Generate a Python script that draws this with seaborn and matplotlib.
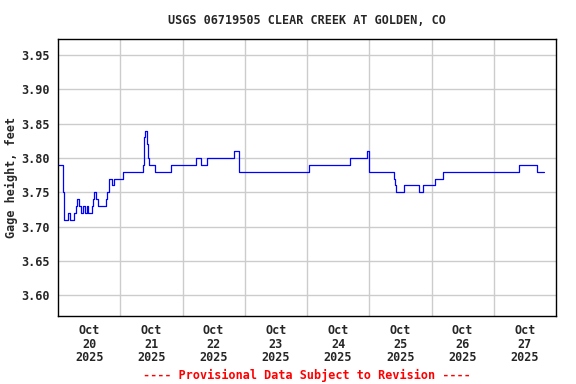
import pandas as pd
import matplotlib
matplotlib.use("Agg")
import matplotlib.pyplot as plt
import matplotlib.dates as mdates
import seaborn as sns

# gage height readings, hours since 2025-10-20 00:00 where the value changes
hours = [0.0, 2.0, 2.25, 3.75, 4.5, 6.25, 6.75, 7.25, 8.25, 9.0, 9.5, 10.5,
         11.0, 11.5, 13.0, 13.5, 13.75, 14.75, 15.25, 18.5, 19.0, 19.5,
         19.75, 20.75, 21.75, 25.0, 32.75, 33.0, 33.25, 33.5, 34.25, 34.75,
         35.25, 37.25, 43.5, 53.25, 55.25, 57.5, 67.75, 69.75, 96.75, 112.5,
         119.0, 120.0, 129.5, 130.0, 130.5, 133.5, 139.25, 140.75, 145.5,
         148.25, 177.75, 184.75, 187.25]
gage_ft = [3.79, 3.75, 3.71, 3.72, 3.71, 3.72, 3.73, 3.74, 3.73, 3.72, 3.73, 3.72,
           3.73, 3.72, 3.73, 3.74, 3.75, 3.74, 3.73, 3.74, 3.75, 3.76,
           3.77, 3.76, 3.77, 3.78, 3.79, 3.80, 3.83, 3.84, 3.82, 3.80,
           3.79, 3.78, 3.79, 3.80, 3.79, 3.80, 3.81, 3.78, 3.79, 3.80,
           3.81, 3.78, 3.77, 3.76, 3.75, 3.76, 3.75, 3.76, 3.77,
           3.78, 3.79, 3.78, 3.78]

y_ticks = [3.60, 3.65, 3.70, 3.75, 3.80, 3.85, 3.90, 3.95]
days = ["2025-10-20", "2025-10-21", "2025-10-22", "2025-10-23",
        "2025-10-24", "2025-10-25", "2025-10-26", "2025-10-27"]
day_labels = ["Oct\n20\n2025", "Oct\n21\n2025", "Oct\n22\n2025", "Oct\n23\n2025",
              "Oct\n24\n2025", "Oct\n25\n2025", "Oct\n26\n2025", "Oct\n27\n2025"]

start = pd.Timestamp("2025-10-20")
df = pd.DataFrame({"time": start + pd.to_timedelta(hours, unit="h"),
                   "gage": gage_ft})

sns.set_style("white")
plt.rcParams["font.family"] = "DejaVu Sans Mono"
plt.rcParams["font.weight"] = "bold"
plt.rcParams["font.size"] = 8.5

fig = plt.figure(figsize=(5.76, 3.84), dpi=100)
ax = fig.add_axes([58 / 576, 1 - 316 / 384, 498 / 576, 277 / 384])

sns.lineplot(data=df, x="time", y="gage", ax=ax, color="#0000ff", lw=0.9,
             drawstyle="steps-post", estimator=None)

# day labels at noon, grid lines at midnight
midnights = pd.to_datetime(days)
noons = midnights + pd.Timedelta(hours=12)
ax.set_xticks(mdates.date2num(noons))
ax.set_xticklabels(day_labels, fontweight="bold", linespacing=1.05)
ax.set_xticks(mdates.date2num(midnights[1:]), minor=True)
ax.set_xlim(mdates.date2num(pd.Timestamp("2025-10-20")),
            mdates.date2num(pd.Timestamp("2025-10-28")))

ax.set_yticks(y_ticks)
ax.set_yticklabels([f"{v:.2f}" for v in y_ticks], fontweight="bold")
ax.set_ylim(3.5695, 3.9735)

ax.grid(False)
ax.grid(True, which="minor", axis="x", color="#cccccc", lw=1)
ax.grid(True, which="major", axis="y", color="#cccccc", lw=1)
ax.tick_params(axis="both", which="both", length=0)
ax.tick_params(axis="x", pad=6)
ax.tick_params(axis="y", pad=6)

for s in ax.spines.values():
    s.set_color("black")
    s.set_linewidth(1)

ax.set_xlabel("")
ax.set_ylabel("Gage height, feet", fontweight="bold", labelpad=2)

fig.text(307 / 576, 1 - 20 / 384, "USGS 06719505 CLEAR CREEK AT GOLDEN, CO",
         ha="center", va="center", fontweight="bold")
fig.text(307 / 576, 1 - 375 / 384, "---- Provisional Data Subject to Revision ----",
         ha="center", va="center", color="red", fontweight="bold")

fig.savefig("out.png", dpi=100)
